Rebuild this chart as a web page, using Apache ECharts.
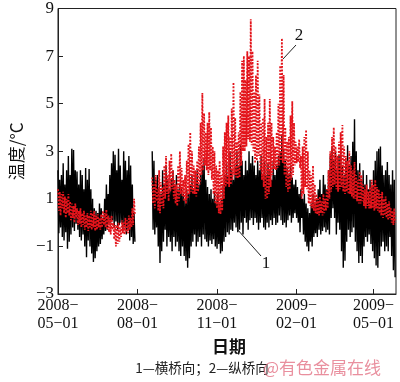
<!DOCTYPE html>
<html><head><meta charset="utf-8">
<script src="https://cdn.jsdelivr.net/npm/echarts@6/dist/echarts.min.js"></script>
<style>html,body{margin:0;padding:0;background:#fff}#c{width:400px;height:382px}</style>
</head><body><div id="c"></div>
<script>
// Day 0 = 2008-05-01. Each entry covers 2 days: daily max (first day), daily min (second day).
const startDate = [2008, 4, 1];
const stepDays = 2;
const seg1StartDay = 0;
const seg2StartDay = 109;
const axisEndDay = 391;
const tickDates = ['2008-05-01', '2008-08-01', '2008-11-01', '2009-02-01', '2009-05-01'];
const yTicks = [-3, -1, 1, 3, 5, 7, 9];

// 1 — 横桥向 (black)
const black1Hi = [2.2,1.8,2.0,2.5,1.6,2.2,2.8,2.0,3.1,3.05, 2.2,2.15,1.6,2.2,2.0,1.4,2.3,1.8,2.25,1.4, 1.0,0.6,0.5,0.4,0.8,0.6,0.2,1.0,1.6,1.2, 2.0,2.5,3.0,2.85,2.2,3.1,2.4,1.8,3.0,2.6, 2.2,2.8,2.4,1.6,0.4];
const black1Lo = [-0.45,-0.2,-0.6,-0.75,-0.4,-1.1,-0.8,-0.5,-0.2,-0.35, -0.05,-0.3,-0.6,-0.75,-0.5,-1.0,-1.45,-0.75,-1.0,-1.3, -1.65,-1.5,-1.2,-1.0,-0.9,-0.7,-0.5,-0.35,-0.3,-0.05, 0.0,0.1,-0.2,0.05,-0.3,-0.1,0.0,-0.35,-0.2,-0.5, -0.3,-0.75,-0.6,-0.9,-0.8];
const black2Hi = [3.0,2.6,1.8,2.0,1.5,1.2,2.2,1.6,2.4,1.8, 1.4,1.8,2.2,1.6,2.0,1.4,1.6,1.5,1.2,1.0, 1.4,1.2,1.6,2.0,1.4,1.8,2.2,1.6,2.0,2.4, 2.7,1.8,1.5,1.2,1.4,1.0,1.3,0.9,1.2,0.8, 1.0,1.6,2.0,2.5,2.0,3.0,2.2,1.8,2.4,3.0, 2.4,3.3,2.6,2.0,2.6,2.2,3.0,2.5,2.8,2.4, 2.0,2.6,2.2,2.8,2.0,2.6,2.0,2.5,2.2,1.8, 2.6,2.0,2.4,2.8,3.0,3.7,3.1,2.6,2.3,2.0, 2.4,1.9,1.6,1.8,1.5,1.2,1.4,1.0,1.2,0.8, 0.6,0.4,0.8,1.2,0.8,1.0,1.4,1.8,1.2,2.0, 1.6,1.4,2.2,2.8,3.2,2.6,3.0,2.2,2.8,3.2, 2.4,2.0,2.6,3.25,2.4,2.8,3.4,4.35,3.0,2.2, 2.5,1.8,2.2,1.6,2.0,1.4,1.8,1.5,2.2,2.6, 3.0,3.1,3.2,2.4,2.0,2.2,2.55,2.0,1.6,2.2, 1.8];
const black2Lo = [-0.3,-0.5,-0.2,-1.0,-1.7,-1.2,-0.8,-0.3,-1.0,-0.6, -0.8,-1.2,-0.6,-1.0,-0.8,-1.2,-1.4,-1.0,-1.4,-1.6, -1.9,-1.5,-1.0,-0.8,-0.5,-1.0,-0.8,-0.6,-1.0,-0.5, -0.7,-0.8,-1.0,-0.75,-0.9,-0.7,-1.0,-1.1,-0.9,-1.3, -1.2,-0.8,-0.6,-0.4,-0.5,-0.3,-0.35,0.0,-0.2,-0.4, -0.3,0.0,-0.5,0.2,0.0,-0.3,0.1,0.2,-0.1,0.2, 0.0,-0.3,0.0,0.2,-0.2,-0.3,0.0,-0.2,0.1,-0.1, 0.2,-0.1,0.0,0.3,0.1,-0.1,0.0,-0.2,0.1,0.3, 0.0,0.2,0.4,0.2,0.0,-0.4,0.2,-0.5,-0.8,-1.0, -1.2,-0.8,-1.0,-0.6,-0.45,-0.6,-0.3,-0.5,-0.35,-0.2, -0.4,-0.3,-0.5,0.2,0.6,0.2,-0.5,0.0,-0.3,-1.2, -1.9,-1.6,-0.8,-0.3,-0.6,-0.4,-0.2,-0.8,-1.2,-1.7, -1.4,-1.7,-1.0,-0.6,-0.8,-0.5,-0.9,-1.2,-1.5,-1.8, -1.9,-1.4,-1.0,-0.8,-1.2,-1.0,-1.2,-0.6,-1.4,-2.0, -2.3];

// 2 — 纵桥向 (red)
const red1Hi = [1.4,1.3,1.2,1.3,1.1,1.0,1.2,0.9,0.8,0.7, 0.8,0.6,0.5,0.6,0.4,0.5,0.3,0.4,0.3,0.5, 0.4,0.5,0.3,0.35,0.2,0.35,0.5,0.4,0.55,0.3, 0.2,0.3,0.0,-0.1,-0.1,0.0,-0.2,0.1,0.0,0.2, 0.1,0.3,0.2,0.6,1.0];
const red1Lo = [0.5,0.3,0.6,0.4,0.2,0.4,0.3,0.1,0.2,0.0, 0.2,-0.1,-0.05,-0.2,-0.1,-0.3,-0.2,-0.35,-0.2,-0.3, -0.2,-0.35,-0.3,-0.2,-0.3,-0.2,-0.1,-0.2,-0.3,-0.4, -0.5,-0.3,-0.7,-1.0,-0.9,-0.8,-0.6,-0.45,-0.5,-0.4, -0.45,-0.3,-0.2,-0.1,0.3];
const red2Hi = [1.9,1.6,2.0,1.4,2.2,1.7,1.5,2.4,2.8,2.0, 2.6,2.9,2.2,1.8,1.6,2.4,3.0,2.3,1.8,2.0, 2.6,3.3,3.8,3.0,2.4,2.2,2.6,3.2,4.2,5.45, 4.6,3.8,4.2,4.65,4.0,3.2,3.0,2.4,2.2,2.6, 2.0,3.2,3.8,4.2,4.5,3.6,4.8,5.9,4.4,3.4, 3.8,5.5,6.8,7.0,6.0,7.2,7.0,8.55,7.2,5.5, 6.2,6.8,5.4,4.2,4.4,5.2,3.6,4.2,5.2,4.2, 3.6,3.2,3.8,5.0,6.6,7.75,6.2,4.0,3.4,3.6, 4.5,5.1,4.2,3.4,3.2,3.5,2.8,3.2,3.6,3.9, 3.0,2.2,2.0,2.4,1.6,1.2,1.0,1.1,0.9,1.2, 1.0,1.4,2.2,3.0,3.6,4.0,3.2,2.8,3.4,3.8, 4.1,3.2,2.8,2.6,3.0,2.4,2.2,2.55,2.0,1.8, 2.15,2.0,1.6,1.4,1.6,1.3,1.5,1.8,1.6,1.8, 1.5,1.4,1.2,1.3,1.0,1.1,0.8,0.9,0.6,0.5, 0.6];
const red2Lo = [0.8,0.6,0.9,0.5,0.4,0.7,0.6,1.0,1.2,0.9, 1.3,1.4,1.0,0.8,0.7,0.9,1.2,1.1,0.9,0.8, 1.0,1.2,1.3,1.2,1.2,1.1,1.3,1.6,2.0,2.2, 2.4,2.2,2.0,2.2,1.8,1.2,0.8,0.6,0.4,0.35, 0.5,1.0,1.5,1.6,1.5,1.6,1.8,2.0,1.9,1.85, 1.9,2.4,3.0,3.0,3.2,3.5,3.4,3.25,3.0,2.5, 2.6,2.8,2.2,1.8,1.5,1.0,1.0,1.2,1.5,2.0, 2.25,2.2,2.3,2.4,2.6,2.5,2.0,1.5,1.3,1.4, 1.8,2.0,2.4,2.5,2.55,2.3,1.0,1.2,1.5,1.4, 0.8,0.7,0.6,0.5,0.4,0.35,0.3,0.4,0.3,0.4, 0.5,0.6,1.0,1.3,1.5,1.6,1.4,1.3,1.4,1.5, 1.3,1.2,1.3,1.2,1.2,1.1,1.0,1.0,0.9,0.8, 0.8,0.9,0.7,0.6,0.7,0.6,0.6,0.6,0.5,0.6, 0.5,0.4,0.3,0.2,0.3,0.2,0.1,0.2,0.0,-0.1, 0.0];

const DAY = 86400000;
const START = Date.UTC(startDate[0], startDate[1], startDate[2]);
function build(startDay, hi, lo) {
  const out = [];
  for (let j = 0; j < hi.length; j++) {
    const d = startDay + stepDays * j;
    out.push([d, hi[j]]);
    out.push([d + 1, lo[j]]);
  }
  return out;
}
const tickVals = tickDates.map(s => { const p = s.split('-').map(Number); return Math.round((Date.UTC(p[0], p[1] - 1, p[2]) - START) / DAY); });

function pad(n) { return (n < 10 ? '0' : '') + n; }
function dayLabel(v) {
  const d = new Date(START + v * DAY);
  return d.getUTCFullYear() + '\u2212\n' + pad(d.getUTCMonth() + 1) + '\u2212' + pad(d.getUTCDate());
}
const serif = 'Liberation Serif';
const cjk = 'Noto Sans CJK SC';
const blackStyle = { color: '#000', width: 1.4 };
const redStyle = { color: '#e3141b', width: 1.8, type: [1.8, 1.6] };
function lineSeries(name, data, style, z) {
  return { name: name, type: 'line', data: data, showSymbol: false, lineStyle: style, itemStyle: { color: style.color }, z: z, silent: true };
}

const chart = echarts.init(document.getElementById('c'), null, { renderer: 'canvas' });
chart.setOption({
  animation: false,
  backgroundColor: '#fff',
  grid: { left: 48, right: 4, top: 5, bottom: 88, show: true, borderColor: '#222', borderWidth: 1, backgroundColor: 'transparent' },
  xAxis: {
    type: 'value', min: 0, max: axisEndDay,
    axisLine: { onZero: false, lineStyle: { color: '#222', width: 1 } },
    axisTick: { show: true, inside: true, length: 5, customValues: tickVals, lineStyle: { color: '#222' } },
    axisLabel: { customValues: tickVals, margin: 3, color: '#111', fontFamily: serif, fontSize: 16, lineHeight: 18, formatter: dayLabel },
    splitLine: { show: false }
  },
  yAxis: {
    type: 'value', min: yTicks[0], max: yTicks[yTicks.length - 1], interval: 2,
    name: '温度/°C', nameLocation: 'middle', nameGap: 24,
    nameTextStyle: { fontFamily: cjk, fontSize: 17, color: '#111' },
    axisLine: { show: true, onZero: false, lineStyle: { color: '#222', width: 1 } },
    axisTick: { show: true, inside: true, length: 5, lineStyle: { color: '#222' } },
    axisLabel: { margin: 4, color: '#111', fontFamily: serif, fontSize: 17, formatter: v => String(v).replace('-', '\u2212') },
    splitLine: { show: false }
  },
  series: [
    lineSeries('横桥向', build(seg1StartDay, black1Hi, black1Lo), blackStyle, 2),
    lineSeries('横桥向', build(seg2StartDay, black2Hi, black2Lo), blackStyle, 2),
    lineSeries('纵桥向', build(seg1StartDay, red1Hi, red1Lo), redStyle, 3),
    lineSeries('纵桥向', build(seg2StartDay, red2Hi, red2Lo), redStyle, 3)
  ],
  graphic: [
    { type: 'line', shape: { x1: 237, y1: 229, x2: 261, y2: 256 }, style: { stroke: '#222', lineWidth: 1 }, z: 10 },
    { type: 'text', style: { x: 266, y: 264, text: '1', font: '17px "Liberation Serif"', fill: '#111', textAlign: 'center', textVerticalAlign: 'middle' }, z: 10 },
    { type: 'line', shape: { x1: 283, y1: 59, x2: 296, y2: 45 }, style: { stroke: '#222', lineWidth: 1 }, z: 10 },
    { type: 'text', style: { x: 299, y: 36, text: '2', font: '17px "Liberation Serif"', fill: '#111', textAlign: 'center', textVerticalAlign: 'middle' }, z: 10 },
    { type: 'text', style: { x: 229, y: 347, text: '日期', font: 'bold 17px "Noto Sans CJK SC"', fill: '#111', textAlign: 'center', textVerticalAlign: 'middle' } },
    { type: 'text', style: { x: 202, y: 368, text: '1—横桥向；2—纵桥向', font: '13.5px "Noto Sans CJK SC"', fill: '#222', textAlign: 'center', textVerticalAlign: 'middle' } },
    { type: 'text', style: { x: 263, y: 368, text: '@有色金属在线', font: '17px "Noto Sans CJK SC"', fill: 'rgba(225,105,125,0.75)', textAlign: 'left', textVerticalAlign: 'middle' }, z: 11 }
  ]
});
</script></body></html>
